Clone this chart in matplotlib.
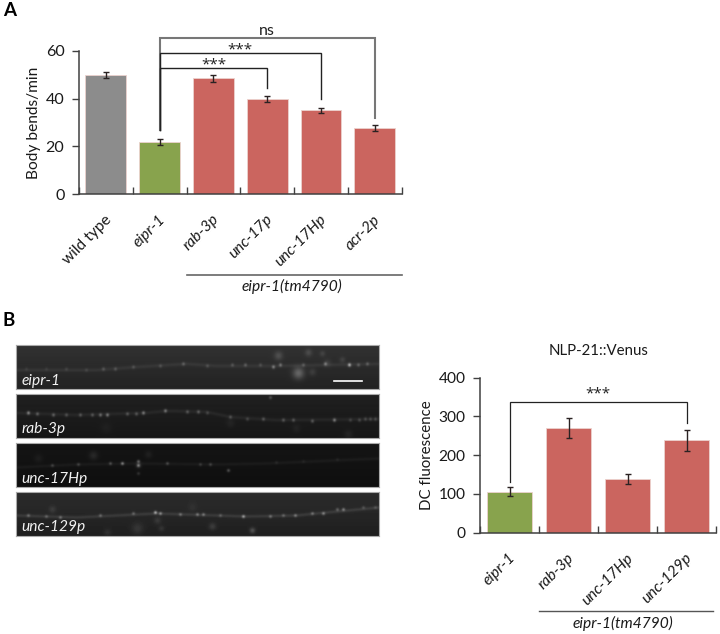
import matplotlib

matplotlib.use("Agg")
import matplotlib.pyplot as plt
import numpy as np

plt.rcParams["font.family"] = ["Lato", "DejaVu Sans"]

W, H = 720, 634
GREY = "#8c8c8c"
GREEN = "#88a34d"
RED = "#cb655f"
LINE = "#404040"

# panel A
a_labels = ["wild type", "eipr-1", "rab-3p", "unc-17p", "unc-17Hp", "acr-2p"]
a_values = [49.8, 22.0, 48.5, 39.8, 35.1, 27.7]
a_errors = [1.1, 1.2, 1.4, 1.1, 1.1, 1.2]
a_colors = [GREY, GREEN, RED, RED, RED, RED]
a_yticks = [0, 20, 40, 60]

# panel B
b_labels = ["eipr-1", "rab-3p", "unc-17Hp", "unc-129p"]
b_values = [106, 270, 138, 239]
b_errors = [11, 25, 13, 27]
b_colors = [GREEN, RED, RED, RED]
b_yticks = [0, 100, 200, 300, 400]

# micrographs, in pixels inside a 363x44 panel
img_names = ["eipr-1", "rab-3p", "unc-17Hp", "unc-129p"]
img_backgrounds = [0.17, 0.11, 0.07, 0.15]
img_cords = [
    [(0, 25), (80, 25), (120, 22), (170, 19), (200, 21), (260, 21), (363, 19)],
    [(0, 19), (60, 21), (130, 19), (150, 17), (190, 18), (214, 23), (260, 26), (363, 25)],
    [(0, 24), (60, 21), (120, 20), (200, 21), (250, 20), (363, 15)],
    [(0, 23), (60, 25), (140, 21), (230, 24), (280, 23), (310, 20), (363, 15)],
]
img_cord_levels = [0.05, 0.05, 0.035, 0.08]
# x, y, brightness
img_puncta = [
    [(10, 24, 0.05), (30, 24, 0.05), (50, 24, 0.07), (70, 25, 0.07), (87, 24, 0.13), (99, 24, 0.13),
     (117, 22, 0.11), (144, 21, 0.11), (167, 19, 0.16), (191, 21, 0.11), (216, 20, 0.13), (229, 20, 0.16),
     (244, 20, 0.11), (257, 22, 0.28), (264, 20, 0.24), (287, 20, 0.14), (309, 19, 0.24), (333, 20, 0.45),
     (342, 20, 0.16), (351, 19, 0.16)],
    [(12, 19, 0.34), (21, 20, 0.21), (37, 21, 0.22), (50, 21, 0.16), (64, 21, 0.18), (76, 21, 0.18), (84, 21, 0.26),
     (91, 21, 0.3), (111, 20, 0.18), (120, 20, 0.18), (127, 19, 0.3), (149, 17, 0.28), (171, 18, 0.18),
     (182, 18, 0.2), (191, 19, 0.13), (214, 23, 0.16), (231, 25, 0.13), (247, 25, 0.18), (267, 26, 0.18),
     (277, 26, 0.18), (296, 27, 0.2), (318, 26, 0.32), (334, 26, 0.12), (343, 26, 0.14), (349, 25, 0.14),
     (354, 25, 0.14), (359, 25, 0.14), (254, 4, 0.16)],
    [(36, 22, 0.14), (62, 21, 0.14), (94, 20, 0.18), (106, 20, 0.34), (122, 18, 0.26), (122, 22, 0.28),
     (122, 30, 0.11), (151, 20, 0.16), (184, 21, 0.11), (194, 21, 0.14), (212, 27, 0.21), (260, 19, 0.05),
     (287, 18, 0.04), (321, 16, 0.04)],
    [(12, 23, 0.18), (30, 24, 0.16), (44, 25, 0.2), (84, 23, 0.18), (117, 21, 0.18), (139, 20, 0.4), (144, 21, 0.28),
     (164, 22, 0.2), (181, 22, 0.22), (187, 22, 0.22), (204, 23, 0.14), (227, 24, 0.34), (254, 24, 0.2),
     (267, 23, 0.16), (279, 23, 0.22), (296, 21, 0.2), (307, 21, 0.26), (321, 17, 0.18), (327, 17, 0.26),
     (347, 15, 0.12), (359, 15, 0.1)],
]
# x, y, radius, brightness
img_blobs = [
    [(282, 28, 4, 0.24), (262, 11, 3, 0.13), (292, 8, 2.5, 0.11), (306, 9, 2, 0.08), (296, 27, 2.5, 0.08),
     (311, 18, 2.5, 0.07), (326, 15, 2, 0.08)],
    [(214, 29, 3, 0.04), (90, 34, 4, 0.03), (280, 34, 3, 0.04), (332, 40, 3, 0.05)],
    [(77, 12, 3, 0.08), (132, 11, 2.5, 0.05), (22, 15, 3, 0.04), (122, 22, 2, 0.1)],
    [(121, 36, 4, 0.08), (36, 17, 2.5, 0.08), (91, 40, 2.5, 0.06), (236, 38, 2, 0.18), (196, 34, 2.5, 0.1),
     (141, 28, 2.5, 0.08), (145, 36, 2, 0.07), (176, 15, 3, 0.04)],
]


def px_axes(fig, x0, x1, y_top, y_bottom):
    return fig.add_axes([x0 / W, 1 - y_bottom / H, (x1 - x0) / W, (y_bottom - y_top) / H])


def micrograph(i):
    yy, xx = np.mgrid[0:44, 0:363]
    img = np.full((44, 363), img_backgrounds[i], dtype=float)
    # darker towards the lower edge, as in the camera frames
    img *= 1.15 - 0.35 * yy / 44
    cx, cy = zip(*img_cords[i])
    img += img_cord_levels[i] * np.exp(-((yy - np.interp(xx, cx, cy)) ** 2) / (2 * 1.2**2))
    for x, y, b in img_puncta[i]:
        img += b * np.exp(-((xx - x) ** 2 + (yy - y) ** 2) / (2 * 1.2**2))
    for x, y, r, b in img_blobs[i]:
        img += b * np.exp(-((xx - x) ** 2 + (yy - y) ** 2) / (2 * r**2))
    return np.clip(img, 0, 1)


def bar_panel(ax, labels, values, errors, colors, yticks, ylabel, width, fontsize):
    x = np.arange(len(values)) + 0.5
    ax.bar(x, values, width=width, color=colors, edgecolor="#ecd2ce", linewidth=0.6, zorder=2)
    ax.errorbar(x, values, yerr=errors, fmt="none", ecolor="#2a2222", elinewidth=1,
                capsize=2.2, capthick=1, zorder=3)
    ax.set_xlim(0, len(values))
    ax.set_ylim(0, yticks[-1])
    ax.set_yticks(yticks)
    ax.set_xticks(np.arange(len(values) + 1))
    ax.set_xticklabels([])
    ax.tick_params(axis="x", direction="in", length=5, width=1, color=LINE)
    ax.tick_params(axis="y", direction="out", length=5, width=1, color=LINE, labelsize=fontsize, pad=5.5,
                   labelcolor="#1a1a1a")
    ax.set_ylabel(ylabel, fontsize=fontsize - 0.4, labelpad=3.5, color="#1a1a1a")
    for s in ["top", "right"]:
        ax.spines[s].set_visible(False)
    for s in ["left", "bottom"]:
        ax.spines[s].set_color(LINE)
        ax.spines[s].set_linewidth(1.1)
    for xi, lab in zip(x, labels):
        style = "normal" if lab == "wild type" else "italic"
        ax.annotate(lab, (xi, 0), xycoords=("data", "axes fraction"), xytext=(-1, -13),
                    textcoords="offset points", rotation=45, ha="right", va="top",
                    rotation_mode="anchor", fontsize=11.2, style=style, color="#1a1a1a")


def bracket(ax, x0, x1, y_top, y0_end, y1_end, text, text_y, color="#222222", lw=1.0):
    ax.plot([x0, x0, x1, x1], [y0_end, y_top, y_top, y1_end], color=color, lw=lw,
            clip_on=False, zorder=4, solid_joinstyle="miter")
    if text == "ns":
        ax.text((x0 + x1) / 2, text_y, text, ha="center", va="center", fontsize=11.5, color="#222222")
    else:
        ax.text((x0 + x1) / 2, text_y, text, ha="center", va="center", fontsize=11,
                family="Open Sans", color="#222222")


fig = plt.figure(figsize=(W / 100, H / 100), dpi=100)

# panel A chart
ax_a = px_axes(fig, 79, 401.7, 50.7, 194.3)
bar_panel(ax_a, a_labels, a_values, a_errors, a_colors, a_yticks, "Body bends/min", 0.76, 11.6)
bracket(ax_a, 1.5, 5.5, 65.2, 27, 31.8, "ns", 68.3, color="#777777", lw=1.5)
bracket(ax_a, 1.5, 4.5, 58.9, 27, 40, "***", 60.2)
bracket(ax_a, 1.5, 3.5, 52.6, 27, 44.4, "***", 54)
ax_a.plot([2, 6], [-33.7, -33.7], color="#666666", lw=1.2, clip_on=False)
ax_a.text(3.96, -38.7, "eipr-1(tm4790)", style="italic", ha="center", va="center", fontsize=11.2, color="#1a1a1a")

# panel B chart
ax_b = px_axes(fig, 480, 716, 377.7, 532.7)
bar_panel(ax_b, b_labels, b_values, b_errors, b_colors, b_yticks, "DC fluorescence", 0.75, 11.2)
bracket(ax_b, 0.5, 3.5, 338, 132, 282, "***", 358, lw=0.9)
ax_b.plot([1, 3.95], [-201, -201], color="#555555", lw=1.0, clip_on=False)
ax_b.text(2.43, -235, "eipr-1(tm4790)", style="italic", ha="center", va="center", fontsize=11.2, color="#1a1a1a")
fig.text(598.5 / W, 1 - 351 / H, "NLP-21::Venus", ha="center", va="center", fontsize=10.8, color="#1a1a1a")

# micrographs
for i, y_top in enumerate([345, 394, 443, 492]):
    ax = px_axes(fig, 16, 379, y_top, y_top + 44)
    ax.imshow(micrograph(i), cmap="gray", vmin=0, vmax=1, aspect="auto", interpolation="bilinear")
    ax.set_xticks([])
    ax.set_yticks([])
    for s in ax.spines.values():
        s.set_color("#aaaaaa")
        s.set_linewidth(0.8)
    ax.text(5, 35, img_names[i], color="#f2f2f2", style="italic", fontsize=11.2, ha="left", va="center")
    if i == 0:
        ax.plot([317, 345], [36, 36], color="white", lw=1.2)
    ax.set_xlim(-0.5, 362.5)

fig.text(3 / W, 1 - 10 / H, "A", fontsize=13.5, fontweight="bold", ha="left", va="center")
fig.text(3 / W, 1 - 321 / H, "B", fontsize=13.5, fontweight="bold", ha="left", va="center")

fig.savefig("out.png", dpi=100)
